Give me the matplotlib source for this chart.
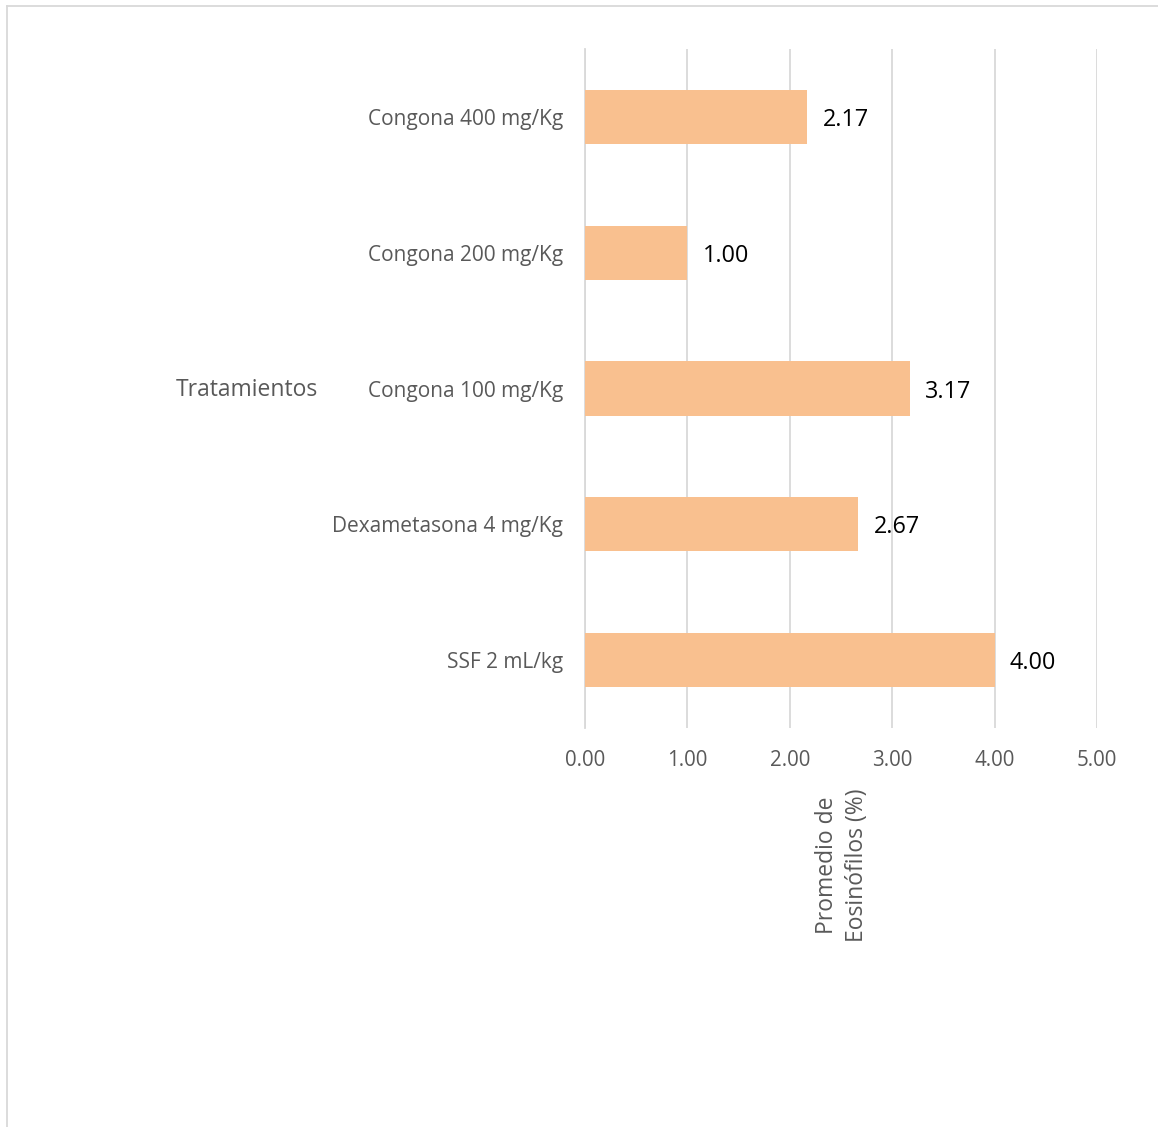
import matplotlib
matplotlib.use("Agg")
import matplotlib.pyplot as plt
from matplotlib.lines import Line2D

categories = ["SSF 2 mL/kg", "Dexametasona 4 mg/Kg", "Congona 100 mg/Kg",
              "Congona 200 mg/Kg", "Congona 400 mg/Kg"]
values = [4.00, 2.67, 3.17, 1.00, 2.17]
xticks = [0, 1, 2, 3, 4, 5]

plt.rcParams['font.family'] = ['Open Sans', 'DejaVu Sans']

W, H = 1158, 1127
fig = plt.figure(figsize=(W/100, H/100), dpi=100)
ax = fig.add_axes([585/W, 1 - 728/H, (1097-585)/W, (728-49)/H])

ypos = list(range(len(categories)))
ax.barh(ypos, values, height=0.4, color="#F9C08F", zorder=3)
for y, v in zip(ypos, values):
    ax.text(v + 0.15, y, f"{v:.2f}", va="center_baseline", ha="left", fontsize=16.8, color="black")

ax.set_xlim(0, 5)
ax.set_ylim(-0.5, 4.5)
ax.set_xticks(xticks)
ax.set_xticklabels([f"{t:.2f}" for t in xticks], fontsize=14.8, color="#595959")
ax.set_yticks(ypos)
ax.set_yticklabels(categories, fontsize=15, color="#595959")
ax.tick_params(axis="x", length=0, pad=16)
ax.tick_params(axis="y", length=0, pad=16)
ax.grid(axis="x", color="#D9D9D9", linewidth=1.3, zorder=0)
for s in ["top", "right", "bottom"]:
    ax.spines[s].set_visible(False)
ax.spines["left"].set_color("#D9D9D9")
ax.spines["left"].set_linewidth(1.3)

fig.text(247/W, 1 - 390/H, "Tratamientos", fontsize=16.5, color="#595959", ha="center", va="center")
fig.text(842/W, 1 - 865/H, "Promedio de\nEosinófilos (%)", fontsize=16.5, color="#595959",
         ha="center", va="center", rotation=90, multialignment="center", linespacing=1.35)

fig.add_artist(Line2D([6.5/W, 6.5/W], [0, 1 - 5.5/H], transform=fig.transFigure, color="#D9D9D9", linewidth=1.3))
fig.add_artist(Line2D([6.5/W, 1], [1 - 5.5/H, 1 - 5.5/H], transform=fig.transFigure, color="#D9D9D9", linewidth=1.3))

fig.savefig("out.png", dpi=100)
